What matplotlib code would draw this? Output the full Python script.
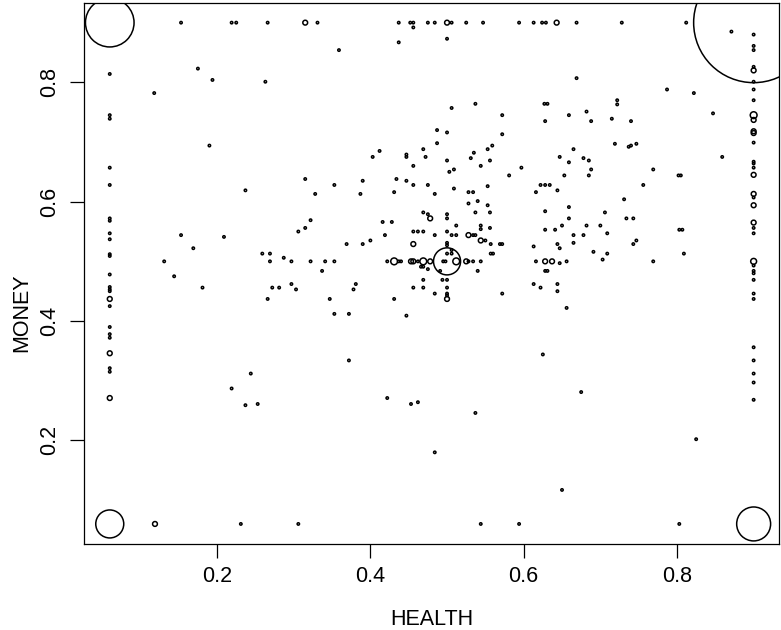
import numpy as np
import matplotlib.pyplot as plt

plt.rcParams['font.family'] = ['Liberation Sans', 'DejaVu Sans']

# big pile-ups in the corners and at the centre
corner_health = [0.06, 0.9, 0.06, 0.9, 0.5]
corner_money = [0.9, 0.9, 0.06, 0.06, 0.5]
corner_n = [410, 2500, 136, 200, 127]

# HEALTH = 0.06 column
left_money = [0.814, 0.745, 0.739, 0.657, 0.628, 0.572, 0.568, 0.547, 0.537, 0.512,
              0.509, 0.478, 0.457, 0.453, 0.45, 0.437, 0.425, 0.39, 0.378, 0.372,
              0.346, 0.321, 0.315, 0.271]
left_n = [1, 1, 1, 1, 1, 1, 1, 1, 1, 1,
          1, 1, 1, 1, 1, 4, 1, 1, 1, 1,
          4, 1, 1, 4]

# HEALTH = 0.9 column
right_money = [0.88, 0.861, 0.854, 0.826, 0.82, 0.801, 0.788, 0.77, 0.745, 0.737,
               0.718, 0.715, 0.699, 0.667, 0.664, 0.657, 0.645, 0.613, 0.607, 0.594,
               0.565, 0.556, 0.547, 0.5, 0.493, 0.484, 0.48, 0.469, 0.446, 0.437,
               0.356, 0.334, 0.312, 0.297, 0.268]
right_n = [1, 1, 1, 1, 4, 1, 1, 1, 8, 4,
           4, 4, 1, 1, 1, 1, 4, 4, 1, 4,
           4, 1, 1, 6, 1, 1, 1, 1, 1, 1,
           1, 1, 1, 1, 1]

# MONEY = 0.9 row
top_health = [0.153, 0.219, 0.225, 0.266, 0.315, 0.331, 0.437, 0.452, 0.456, 0.475,
              0.484, 0.5, 0.506, 0.525, 0.547, 0.594, 0.613, 0.624, 0.629, 0.643,
              0.669, 0.728, 0.812]
top_n = [1, 1, 1, 1, 4, 1, 1, 1, 1, 1,
         1, 4, 1, 1, 1, 1, 1, 1, 1, 4,
         1, 1, 1]

# MONEY = 0.06 row
bottom_health = [0.119, 0.231, 0.306, 0.544, 0.594, 0.803]
bottom_n = [4, 1, 1, 1, 1, 1]

# everything inside
inner = [
    (0.175, 0.823, 1), (0.194, 0.804, 1), (0.263, 0.801, 1), (0.118, 0.782, 1),
    (0.190, 0.694, 1), (0.237, 0.619, 1), (0.315, 0.638, 1), (0.328, 0.613, 1),
    (0.456, 0.892, 1), (0.437, 0.867, 1), (0.5, 0.873, 1), (0.359, 0.854, 1),
    (0.506, 0.757, 1), (0.537, 0.764, 1), (0.627, 0.764, 1), (0.631, 0.764, 1),
    (0.628, 0.735, 1), (0.572, 0.745, 1), (0.659, 0.745, 1), (0.572, 0.713, 1),
    (0.487, 0.720, 1), (0.5, 0.716, 1), (0.487, 0.698, 1), (0.469, 0.688, 1),
    (0.412, 0.685, 1), (0.403, 0.675, 1), (0.447, 0.679, 1), (0.447, 0.675, 1),
    (0.472, 0.675, 1), (0.456, 0.660, 1), (0.5, 0.669, 1), (0.503, 0.650, 1),
    (0.509, 0.654, 1), (0.531, 0.673, 1), (0.535, 0.682, 1), (0.544, 0.660, 1),
    (0.553, 0.688, 1), (0.559, 0.694, 1), (0.556, 0.669, 1), (0.581, 0.644, 1),
    (0.597, 0.657, 1), (0.647, 0.675, 1), (0.659, 0.666, 1), (0.653, 0.644, 1),
    (0.353, 0.628, 1), (0.390, 0.635, 1), (0.387, 0.613, 1), (0.434, 0.638, 1),
    (0.431, 0.616, 1), (0.447, 0.635, 1), (0.456, 0.628, 1), (0.475, 0.628, 1),
    (0.484, 0.613, 1), (0.509, 0.622, 1), (0.528, 0.616, 1), (0.534, 0.616, 1),
    (0.553, 0.626, 1), (0.616, 0.616, 1), (0.622, 0.628, 1), (0.628, 0.628, 1),
    (0.634, 0.628, 1), (0.644, 0.619, 1),
    (0.669, 0.807, 1), (0.787, 0.788, 1), (0.822, 0.782, 1), (0.722, 0.770, 1),
    (0.722, 0.763, 1), (0.682, 0.751, 1), (0.688, 0.735, 1), (0.715, 0.739, 1),
    (0.740, 0.735, 1), (0.847, 0.748, 1), (0.719, 0.697, 1), (0.737, 0.692, 1),
    (0.740, 0.694, 1), (0.747, 0.697, 1), (0.665, 0.688, 1), (0.678, 0.673, 1),
    (0.685, 0.669, 1), (0.688, 0.654, 1), (0.685, 0.644, 1), (0.769, 0.654, 1),
    (0.802, 0.644, 1), (0.805, 0.644, 1), (0.859, 0.675, 1), (0.756, 0.628, 1),
    (0.731, 0.604, 1), (0.871, 0.885, 1),
    (0.659, 0.591, 1), (0.659, 0.572, 1), (0.706, 0.582, 1), (0.734, 0.572, 1),
    (0.743, 0.572, 1), (0.650, 0.560, 1), (0.682, 0.560, 1), (0.700, 0.560, 1),
    (0.665, 0.544, 1), (0.678, 0.544, 1), (0.709, 0.547, 1), (0.665, 0.531, 1),
    (0.743, 0.529, 1), (0.747, 0.535, 1), (0.803, 0.553, 1), (0.807, 0.553, 1),
    (0.691, 0.516, 1), (0.709, 0.513, 1), (0.703, 0.503, 1), (0.656, 0.5, 1),
    (0.769, 0.5, 1), (0.809, 0.513, 1), (0.656, 0.422, 1),
    (0.675, 0.281, 1), (0.825, 0.202, 1), (0.650, 0.117, 1),
    (0.219, 0.287, 1), (0.237, 0.259, 1), (0.253, 0.261, 1),
    (0.422, 0.271, 1), (0.453, 0.261, 1), (0.462, 0.264, 1), (0.537, 0.246, 1),
    (0.484, 0.18, 1),
    (0.153, 0.544, 1), (0.169, 0.522, 1), (0.209, 0.541, 1), (0.131, 0.5, 1),
    (0.144, 0.475, 1), (0.181, 0.456, 1), (0.259, 0.513, 1), (0.269, 0.513, 1),
    (0.269, 0.5, 1), (0.287, 0.506, 1), (0.297, 0.5, 1), (0.322, 0.5, 1),
    (0.341, 0.5, 1), (0.306, 0.55, 1), (0.315, 0.556, 1), (0.322, 0.569, 1),
    (0.337, 0.484, 1), (0.272, 0.456, 1), (0.281, 0.456, 1), (0.297, 0.462, 1),
    (0.303, 0.453, 1), (0.266, 0.437, 1), (0.347, 0.437, 1), (0.244, 0.312, 1),
    (0.528, 0.597, 1), (0.540, 0.601, 1), (0.553, 0.594, 1), (0.537, 0.582, 1),
    (0.556, 0.582, 1), (0.469, 0.582, 1), (0.475, 0.579, 1), (0.478, 0.572, 4),
    (0.5, 0.579, 1), (0.5, 0.572, 1), (0.416, 0.566, 1), (0.428, 0.566, 1),
    (0.512, 0.56, 1), (0.544, 0.56, 1), (0.544, 0.554, 1), (0.556, 0.556, 1),
    (0.628, 0.584, 1), (0.628, 0.553, 1), (0.641, 0.553, 1), (0.456, 0.55, 1),
    (0.462, 0.55, 1), (0.469, 0.55, 1), (0.5, 0.55, 1), (0.419, 0.544, 1),
    (0.484, 0.544, 1), (0.506, 0.544, 1), (0.512, 0.544, 1), (0.528, 0.544, 4),
    (0.534, 0.544, 1), (0.537, 0.544, 1), (0.544, 0.535, 4), (0.55, 0.535, 1),
    (0.557, 0.529, 1), (0.569, 0.529, 1), (0.572, 0.529, 1), (0.557, 0.513, 1),
    (0.560, 0.513, 1), (0.4, 0.535, 1), (0.369, 0.529, 1), (0.390, 0.529, 1),
    (0.456, 0.529, 4), (0.5, 0.531, 1), (0.5, 0.527, 1), (0.5, 0.513, 1),
    (0.506, 0.513, 1), (0.506, 0.519, 1), (0.613, 0.525, 1), (0.644, 0.529, 1),
    (0.647, 0.522, 1), (0.647, 0.497, 1), (0.616, 0.5, 1), (0.628, 0.5, 4),
    (0.637, 0.5, 4), (0.628, 0.484, 1), (0.631, 0.484, 1), (0.613, 0.462, 1),
    (0.622, 0.456, 1), (0.644, 0.462, 1), (0.644, 0.45, 1), (0.625, 0.344, 1),
    (0.353, 0.5, 1), (0.422, 0.5, 1), (0.431, 0.5, 8), (0.437, 0.5, 1),
    (0.44, 0.5, 1), (0.453, 0.5, 4), (0.456, 0.5, 4), (0.462, 0.5, 1),
    (0.469, 0.5, 8), (0.478, 0.5, 4), (0.495, 0.5, 1), (0.498, 0.5, 1),
    (0.512, 0.5, 8), (0.525, 0.5, 4), (0.528, 0.5, 1), (0.534, 0.5, 1),
    (0.544, 0.5, 1),
    (0.466, 0.491, 1), (0.469, 0.491, 1), (0.475, 0.487, 1), (0.491, 0.484, 1),
    (0.540, 0.484, 1), (0.469, 0.469, 1), (0.494, 0.469, 1), (0.5, 0.469, 1),
    (0.456, 0.456, 1), (0.469, 0.456, 1), (0.5, 0.456, 1), (0.5, 0.446, 1),
    (0.5, 0.443, 1), (0.5, 0.437, 4), (0.484, 0.446, 1), (0.431, 0.437, 1),
    (0.572, 0.446, 1), (0.378, 0.453, 1), (0.381, 0.462, 1), (0.353, 0.412, 1),
    (0.372, 0.412, 1), (0.447, 0.409, 1), (0.372, 0.334, 1),
]

inner_health = [p[0] for p in inner]
inner_money = [p[1] for p in inner]
inner_n = [p[2] for p in inner]

health = np.concatenate([corner_health, [0.06] * len(left_money), [0.9] * len(right_money),
                         top_health, bottom_health, inner_health])
money = np.concatenate([corner_money, left_money, right_money,
                        [0.9] * len(top_health), [0.06] * len(bottom_health), inner_money])
n = np.concatenate([corner_n, left_n, right_n, top_n, bottom_n, inner_n])

dpi = 100
fig = plt.figure(figsize=(7.81, 6.30), dpi=dpi)
ax = fig.add_axes([84 / 781, 86 / 630, 695.4 / 781, 541.4 / 630])

# circle radius grows with the square root of the count (like symbols())
r_px = 1.2 * np.sqrt(n)
s = (2 * r_px * 72 / dpi) ** 2
ax.scatter(health, money, s=s, facecolors='none', edgecolors='black', linewidths=1.1)

ax.set_xlim(0.0264, 0.9336)
ax.set_ylim(0.0264, 0.9336)
ax.set_xticks([0.2, 0.4, 0.6, 0.8])
ax.set_yticks([0.2, 0.4, 0.6, 0.8])
ax.set_xticklabels(['0.2', '0.4', '0.6', '0.8'])
ax.set_yticklabels(['0.2', '0.4', '0.6', '0.8'], rotation=90, va='center')
ax.tick_params(direction='out', length=10, width=0.9, labelsize=15.5, pad=6)
ax.tick_params(axis='y', pad=7)
for sp in ax.spines.values():
    sp.set_linewidth(0.9)

fig.text(431.7 / 781, 5 / 630, 'HEALTH', ha='center', va='baseline', fontsize=15.5)
fig.text(21.7 / 781, 1 - 273.3 / 630, 'MONEY', ha='right', va='center', rotation=90,
         rotation_mode='anchor', fontsize=15.5)

fig.savefig('out.png', dpi=dpi)
